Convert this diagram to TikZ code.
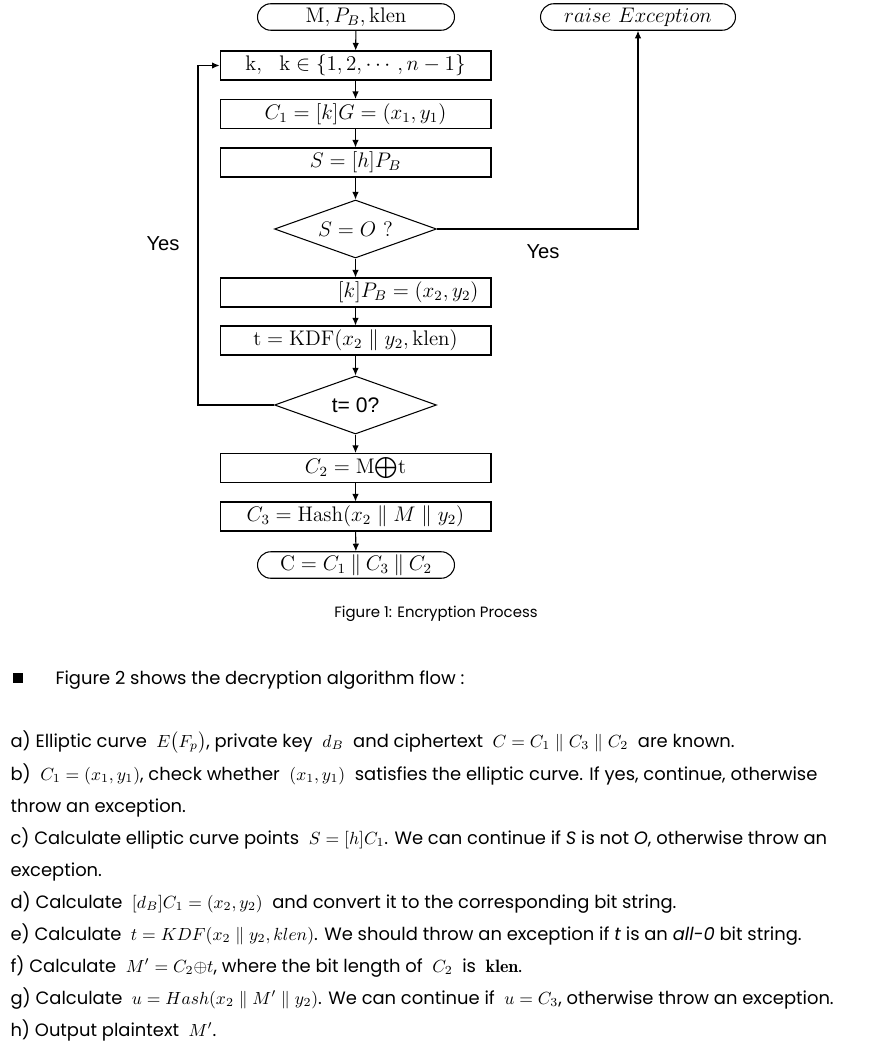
\documentclass[tikz,border=0pt]{standalone}
\usepackage{amsmath}
\usepackage{amssymb}
\usepackage{fontspec}
\usepackage{tikz}
\usetikzlibrary{arrows.meta}
\usetikzlibrary{shapes.geometric}
\usetikzlibrary{shapes.misc}

\newfontfamily\bodyfont{Poppins}
\newfontfamily\labelfont{Liberation Sans}
\newcommand\flowfont{\fontsize{12}{14}\selectfont}

\tikzset{
  box/.style={draw, rectangle, minimum width=5.42cm, minimum height=0.58cm, inner sep=0pt, font=\flowfont},
  decision/.style={draw, diamond, aspect=2.8, minimum width=3.24cm, minimum height=1.16cm, inner sep=0pt, font=\flowfont},
  terminal/.style={draw, rounded rectangle, minimum height=0.53cm, inner sep=0pt, font=\flowfont},
  yeslabel/.style={font=\labelfont\fontsize{11.5}{13}\selectfont},
  bodyline/.style={anchor=base west, inner sep=0pt, font=\bodyfont\fontsize{10.2}{12}\selectfont}
}

\begin{document}
\begin{tikzpicture}[x=0.02cm, y=-0.02cm, line width=0.6pt, >={Latex[length=1.5mm,width=1.3mm]}]
\useasboundingbox (0,0) rectangle (870,1054);

% encryption flow
\node (start) at (356,17) [terminal, minimum width=3.94cm] {$\mathrm{M},P_B,\mathrm{klen}$};
\node (exc) at (638,17) [terminal, minimum width=3.9cm] {$raise\ Exception$};
\node (kbox) at (355.5,65.5) [box] {$\mathrm{k},\ \ \mathrm{k}\in\{1,2,\cdots,n-1\}$};
\node (c1box) at (355.5,114) [box] {$C_1=[k]G=(x_1,y_1)$};
\node (sbox) at (355.5,162.5) [box] {$S=[h]P_B$};
\node (sdec) at (355.5,229) [decision] {$S=O$ ?};
\node (kpbox) at (355.5,292.5) [box, text width=4.92cm] {\hfill$[k]P_B=(x_2,y_2)$};
\node (kdfbox) at (355.5,340.5) [box] {$\mathrm{t}=\mathrm{KDF}(x_2\parallel y_2,\mathrm{klen})$};
\node (tdec) at (355.5,405) [decision, font=\labelfont\fontsize{12}{14}\selectfont] {t= 0?};
\node (c2box) at (355.5,468) [box] {$C_2=\mathrm{M}{\textstyle\bigoplus}\mathrm{t}$};
\node (c3box) at (355.5,516.5) [box] {$C_3=\mathrm{Hash}(x_2\parallel M\parallel y_2)$};
\node (cout) at (356,565) [terminal, minimum width=3.94cm] {$\mathrm{C}=C_1\mathbin{\|}C_3\mathbin{\|}C_2$};

\draw[->] (start) -- (kbox);
\draw[->] (kbox) -- (c1box);
\draw[->] (c1box) -- (sbox);
\draw[->] (sbox) -- (sdec);
\draw[->] (sdec) -- (kpbox);
\draw[->] (kpbox) -- (kdfbox);
\draw[->] (kdfbox) -- (tdec);
\draw[->] (tdec) -- (c2box);
\draw[->] (c2box) -- (c3box);
\draw[->] (c3box) -- (cout);

\coordinate (loopbend) at (198,405);
\draw[->] (tdec.west) -- (loopbend) |- (kbox.west);
\draw[->] (sdec.east) -| (exc.south);

\node (yesloop) at (163,244) [yeslabel] {Yes};
\node (yesexc) at (543,252) [yeslabel] {Yes};

\node (caption) at (436,614) [font=\bodyfont\fontsize{8.5}{10}\selectfont] {Figure 1: Encryption Process};

% decryption steps
\node (bullet) at (18,678) [fill=black, minimum size=0.2cm, inner sep=0pt] {};
\node (intro) at (55,684) [bodyline] {Figure 2 shows the decryption algorithm flow :};

\node (stepa) at (10,747) [bodyline] {a) Elliptic curve \ $E\big(F_p\big)$, private key \ $d_B$ \ and ciphertext \ $C=C_1\parallel C_3\parallel C_2$ \ are known.};
\node (stepb) at (10,780) [bodyline] {b) \ $C_1=(x_1,y_1)$, check whether \ $(x_1,y_1)$ \ satisfies the elliptic curve. If yes, continue, otherwise};
\node (stepbb) at (10,812) [bodyline] {throw an exception.};
\node (stepc) at (10,844) [bodyline] {c) Calculate elliptic curve points \ $S=[h]C_1$. We can continue if \textit{S} is not \textit{O}, otherwise throw an};
\node (stepcc) at (10,876) [bodyline] {exception.};
\node (stepd) at (10,908) [bodyline] {d) Calculate \ $[d_B]C_1=(x_2,y_2)$ \ and convert it to the corresponding bit string.};
\node (stepe) at (10,940) [bodyline] {e) Calculate \ $t=KDF(x_2\parallel y_2,klen)$. We should throw an exception if \textit{t} is an \textit{all-0} bit string.};
\node (stepf) at (10,972) [bodyline] {f) Calculate \ $M'=C_2{\oplus}t$, where the bit length of \ $C_2$ \ is \ $\mathbf{klen}$.};
\node (stepg) at (10,1004) [bodyline] {g) Calculate \ $u=Hash(x_2\parallel M'\parallel y_2)$. We can continue if \ $u=C_3$, otherwise throw an exception.};
\node (steph) at (10,1036) [bodyline] {h) Output plaintext \ $M'$.};
\end{tikzpicture}
\end{document}
